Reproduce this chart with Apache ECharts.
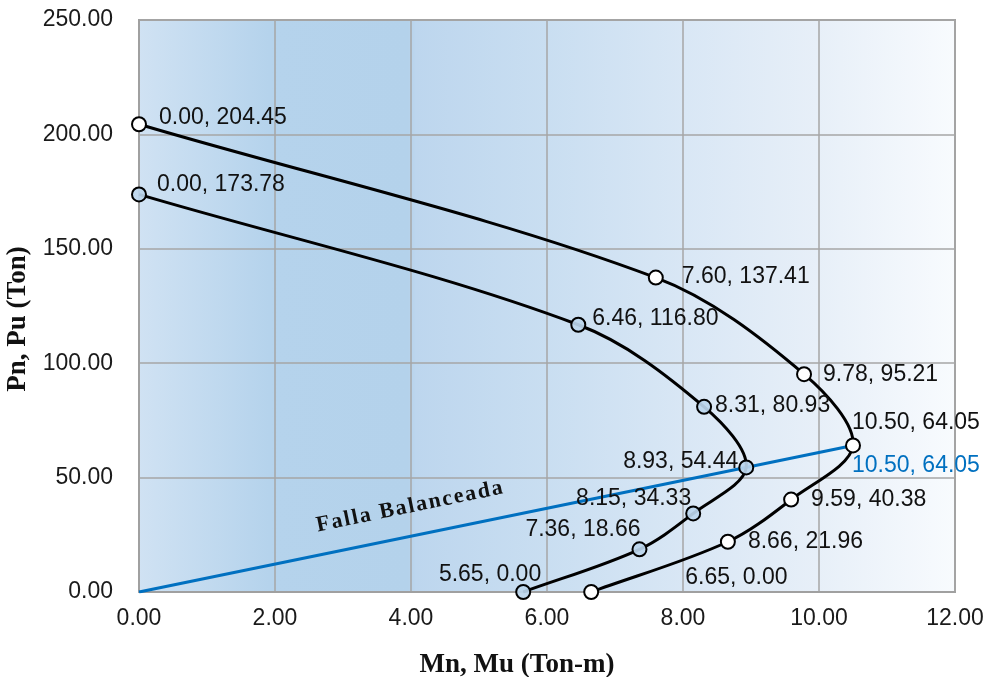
<!DOCTYPE html>
<html>
<head>
<meta charset="utf-8">
<script src="https://cdn.jsdelivr.net/npm/echarts@6/dist/echarts.min.js"></script>
<style>
  html, body { margin: 0; padding: 0; background: #ffffff; }
  #chart { width: 987px; height: 677px; }
</style>
</head>
<body>
<div id="chart"></div>
<script>
// Interaction diagram: nominal (Mn, Pn) and design (Mu, Pu) curves
const momentNominal = [0.00, 7.60, 9.78, 10.50, 9.59, 8.66, 6.65];
const axialNominal  = [204.45, 137.41, 95.21, 64.05, 40.38, 21.96, 0.00];

const momentDesign = [0.00, 6.46, 8.31, 8.93, 8.15, 7.36, 5.65];
const axialDesign  = [173.78, 116.80, 80.93, 54.44, 34.33, 18.66, 0.00];

// Balanced-failure line from the origin to the balanced point
const momentBalanced = [0.00, 10.50];
const axialBalanced  = [0.00, 64.05];

const xTicks = { min: 0, max: 12, interval: 2 };
const yTicks = { min: 0, max: 250, interval: 50 };

// Label placement around each marker: [dx, dy, align]
const nominalLabelPlace = [[20, -7, 'left'], [26, -1, 'left'], [19, 0, 'left'], [-1, -23, 'left'],
                           [20, 0, 'left'], [20, 0, 'left'], [94, -14, 'left']];
const designLabelPlace  = [[18, -10, 'left'], [14, -6, 'left'], [11, -1, 'left'], [-8, -6, 'right'],
                           [-2, -15, 'right'], [1, -20, 'right'], [18, -17, 'right']];

const labelFont = '"Liberation Sans", Arial, sans-serif';
const tickFont = '"Arial Narrow", "Liberation Sans Narrow", "Liberation Sans", sans-serif';
const serifFont = '"Liberation Serif", "Times New Roman", serif';

function fmt(v) { return v.toFixed(2); }

function buildPoints(ms, ps, place) {
  return ms.map((m, i) => ({
    value: [m, ps[i]],
    label: {
      show: true,
      position: 'inside',
      align: place[i][2],
      verticalAlign: 'middle',
      offset: [place[i][0], place[i][1]],
      formatter: fmt(m) + ', ' + fmt(ps[i]),
      color: '#111',
      fontSize: 23,
      fontFamily: labelFont
    }
  }));
}

// Smooth curve through the points: cubic Béziers whose tangent handles
// are scaled by the neighbouring chord lengths
function smoothPath(ms, ps, api) {
  const pts = ms.map((m, i) => api.coord([m, ps[i]]));
  const n = pts.length;
  const dist = (a, b) => Math.hypot(b[0] - a[0], b[1] - a[1]);
  const k = 1 / 3;
  let d = 'M' + pts[0][0] + ' ' + pts[0][1];
  for (let i = 0; i < n - 1; i++) {
    const p0 = pts[Math.max(i - 1, 0)];
    const p1 = pts[i];
    const p2 = pts[i + 1];
    const p3 = pts[Math.min(i + 2, n - 1)];
    const d01 = dist(p0, p1), d12 = dist(p1, p2), d23 = dist(p2, p3);
    const f1 = (d01 + d12) > 0 ? k * d12 / (d01 + d12) : 0;
    const f2 = (d12 + d23) > 0 ? k * d12 / (d12 + d23) : 0;
    const c1 = [p1[0] + (p2[0] - p0[0]) * f1, p1[1] + (p2[1] - p0[1]) * f1];
    const c2 = [p2[0] - (p3[0] - p1[0]) * f2, p2[1] - (p3[1] - p1[1]) * f2];
    d += ' C' + c1[0] + ' ' + c1[1] + ' ' + c2[0] + ' ' + c2[1] + ' ' + p2[0] + ' ' + p2[1];
  }
  return d;
}

function curveSeries(name, ms, ps, z) {
  return {
    name: name,
    type: 'custom',
    z: z,
    silent: true,
    data: ms.map((m, i) => [m, ps[i]]),
    renderItem: function (params, api) {
      if (params.dataIndex !== 0) return null;
      return {
        type: 'path',
        shape: { pathData: smoothPath(ms, ps, api) },
        style: { fill: 'none', stroke: '#000', lineWidth: 3 }
      };
    }
  };
}

function markerSeries(name, ms, ps, place, fill, z) {
  return {
    name: name,
    type: 'line',
    z: z,
    data: buildPoints(ms, ps, place),
    symbol: 'circle',
    symbolSize: 14,
    itemStyle: { color: fill, borderColor: '#000', borderWidth: 2 },
    lineStyle: { width: 0, opacity: 0 }
  };
}

const balancedPoints = momentBalanced.map((m, i) => ({
  value: [m, axialBalanced[i]],
  label: i === momentBalanced.length - 1 ? {
    show: true,
    position: 'inside',
    align: 'left',
    verticalAlign: 'middle',
    offset: [-1, 20],
    formatter: fmt(m) + ', ' + fmt(axialBalanced[i]),
    color: '#0070c0',
    fontSize: 23,
    fontFamily: labelFont
  } : { show: false }
}));

const chart = echarts.init(document.getElementById('chart'), null, { renderer: 'canvas' });

const bgGradient = {
  type: 'linear', x: 0, y: 0, x2: 1, y2: 0,
  colorStops: [
    { offset: 0.0, color: '#d0e2f3' },
    { offset: 0.16, color: '#b5d3ec' },
    { offset: 0.33, color: '#b4d2eb' },
    { offset: 0.34, color: '#bdd6ee' },
    { offset: 0.5, color: '#c9def1' },
    { offset: 0.67, color: '#d9e7f5' },
    { offset: 0.83, color: '#e7eff8' },
    { offset: 1.0, color: '#f8fbfe' }
  ]
};

const option = {
  animation: false,
  backgroundColor: '#ffffff',
  grid: {
    left: 139, right: 32, top: 20, bottom: 85,
    outerBoundsMode: 'none',
    containLabel: false,
    show: true,
    backgroundColor: bgGradient,
    borderColor: '#a0a0a0',
    borderWidth: 2
  },
  xAxis: {
    type: 'value',
    min: xTicks.min, max: xTicks.max, interval: xTicks.interval,
    name: 'Mn, Mu (Ton-m)',
    nameLocation: 'middle',
    nameGap: 60,
    nameTextStyle: {
      fontFamily: serifFont, fontWeight: 'bold', fontSize: 27, color: '#111',
      padding: [0, 60, 0, 0]
    },
    axisLine: { show: true, lineStyle: { color: '#a0a0a0', width: 2 } },
    axisTick: { show: false },
    splitLine: { show: true, lineStyle: { color: '#a6a6a6', width: 1.5 } },
    axisLabel: {
      formatter: v => v.toFixed(2),
      fontFamily: tickFont, fontSize: 23, color: '#1a1a1a', margin: 15
    }
  },
  yAxis: {
    type: 'value',
    min: yTicks.min, max: yTicks.max, interval: yTicks.interval,
    name: 'Pn, Pu (Ton)',
    nameLocation: 'middle',
    nameGap: 106,
    nameTextStyle: {
      fontFamily: serifFont, fontWeight: 'bold', fontSize: 27, color: '#111',
      padding: [0, 26, 0, 0]
    },
    axisLine: { show: true, lineStyle: { color: '#a0a0a0', width: 2 } },
    axisTick: { show: false },
    splitLine: { show: true, lineStyle: { color: '#a6a6a6', width: 1.5 } },
    axisLabel: {
      formatter: v => v.toFixed(2),
      fontFamily: tickFont, fontSize: 23, color: '#1a1a1a', margin: 26
    }
  },
  series: [
    {
      name: 'Falla Balanceada',
      type: 'line',
      z: 2,
      data: balancedPoints,
      symbol: 'circle',
      symbolSize: 1,
      itemStyle: { color: 'rgba(0,0,0,0)' },
      lineStyle: { color: '#0070c0', width: 3 }
    },
    curveSeries('Diseño (curva)', momentDesign, axialDesign, 3),
    curveSeries('Nominal (curva)', momentNominal, axialNominal, 3),
    markerSeries('Diseño', momentDesign, axialDesign, designLabelPlace, 'rgba(188,214,237,0.92)', 4),
    markerSeries('Nominal', momentNominal, axialNominal, nominalLabelPlace, '#ffffff', 5)
  ]
};

chart.setOption(option);

// Rotated caption along the balanced-failure line
const lineStart = chart.convertToPixel('grid', [momentBalanced[0], axialBalanced[0]]);
const lineEnd = chart.convertToPixel('grid', [momentBalanced[1], axialBalanced[1]]);
const angle = Math.atan2(lineStart[1] - lineEnd[1], lineEnd[0] - lineStart[0]);
const t = 0.387;
const cx = lineStart[0] + (lineEnd[0] - lineStart[0]) * t;
const cy = lineStart[1] + (lineEnd[1] - lineStart[1]) * t;
const lift = 29;
const caption = 'Falla Balanceada'.split('').join('\u200A');

chart.setOption({
  graphic: [{
    type: 'text',
    x: cx - Math.sin(angle) * lift,
    y: cy - Math.cos(angle) * lift,
    rotation: angle,
    z: 10,
    style: {
      text: caption,
      fill: '#111',
      font: 'bold 22px ' + serifFont,
      align: 'center',
      verticalAlign: 'middle'
    }
  }]
});
</script>
</body>
</html>
